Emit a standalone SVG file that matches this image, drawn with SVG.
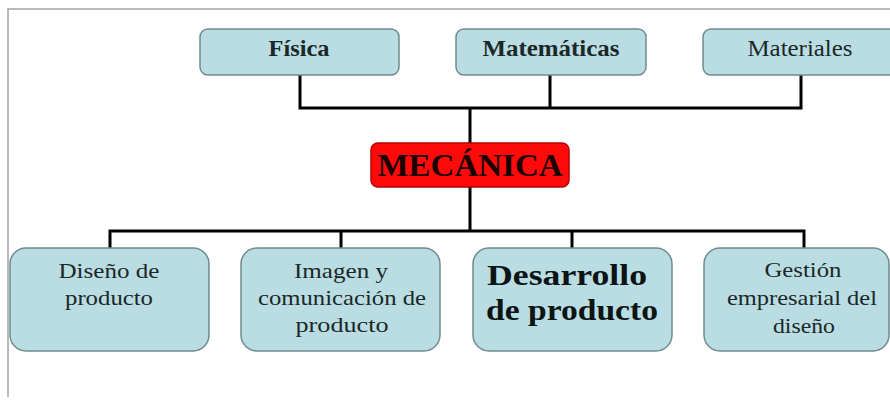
<svg xmlns="http://www.w3.org/2000/svg" width="890" height="405" viewBox="0 0 890 405">
  <style>
    .box { fill: #b9dde2; stroke: #6f8b8e; stroke-width: 1.5; }
    .red { fill: #ff0a0a; stroke: #b80000; stroke-width: 1.5; }
    .t { font-family: "Liberation Serif", "Times New Roman", serif; fill: #1b2828; text-anchor: middle; }
    .b { font-weight: bold; }
    .conn { stroke: #000; stroke-width: 3; fill: none; stroke-linecap: square; }
    .frame { stroke: #a3a3a3; stroke-width: 1.5; fill: none; }
  </style>
  <rect width="890" height="405" fill="#ffffff"/>
  <path class="frame" d="M8,397 V9 H890"/>

  <g id="connectors">
    <path class="conn" d="M300,75 V108 M550,75 V108 M801,75 V108 M300,108 H801 M470,108 V143"/>
    <path class="conn" d="M470,187 V231 M110,231 H804 M110,231 V248 M341,231 V248 M572,231 V248 M804,231 V248"/>
  </g>

  <g id="fisica">
    <rect class="box" x="200" y="29" width="199" height="46" rx="8"/>
    <text class="t b" x="299" y="56" font-size="24" textLength="61" lengthAdjust="spacingAndGlyphs">Física</text>
  </g>
  <g id="matematicas">
    <rect class="box" x="456" y="29" width="190" height="46" rx="8"/>
    <text class="t b" x="551" y="56" font-size="24" textLength="137" lengthAdjust="spacingAndGlyphs">Matemáticas</text>
  </g>
  <g id="materiales">
    <rect class="box" x="703" y="29" width="200" height="46" rx="8"/>
    <text class="t" x="800" y="56" font-size="24" textLength="105" lengthAdjust="spacingAndGlyphs">Materiales</text>
  </g>

  <g id="mecanica">
    <rect class="red" x="371" y="143" width="198" height="44" rx="7"/>
    <text class="t b" x="470" y="176" font-size="31" fill="#1a0000" style="fill:#1a0000" textLength="185" lengthAdjust="spacingAndGlyphs">MECÁNICA</text>
  </g>

  <g id="diseno">
    <rect class="box" x="10" y="248" width="199" height="103" rx="16"/>
    <text class="t" x="109" y="278" font-size="22" textLength="101" lengthAdjust="spacingAndGlyphs">Diseño de</text>
    <text class="t" x="109" y="305" font-size="22" textLength="88" lengthAdjust="spacingAndGlyphs">producto</text>
  </g>
  <g id="imagen">
    <rect class="box" x="241" y="248" width="199" height="103" rx="16"/>
    <text class="t" x="341" y="278" font-size="22" textLength="94" lengthAdjust="spacingAndGlyphs">Imagen y</text>
    <text class="t" x="342" y="305" font-size="22" textLength="168" lengthAdjust="spacingAndGlyphs">comunicación de</text>
    <text class="t" x="342" y="332" font-size="22" textLength="93" lengthAdjust="spacingAndGlyphs">producto</text>
  </g>
  <g id="desarrollo">
    <rect class="box" x="473" y="248" width="199" height="103" rx="16"/>
    <text class="t b" x="567" y="285" font-size="30" style="fill:#0d1414" textLength="160" lengthAdjust="spacingAndGlyphs">Desarrollo</text>
    <text class="t b" x="572" y="320" font-size="30" style="fill:#0d1414" textLength="172" lengthAdjust="spacingAndGlyphs">de producto</text>
  </g>
  <g id="gestion">
    <rect class="box" x="704" y="248" width="185" height="103" rx="16"/>
    <text class="t" x="803" y="277" font-size="22" textLength="77" lengthAdjust="spacingAndGlyphs">Gestión</text>
    <text class="t" x="802" y="305" font-size="22" textLength="150" lengthAdjust="spacingAndGlyphs">empresarial del</text>
    <text class="t" x="804" y="333" font-size="22" textLength="62" lengthAdjust="spacingAndGlyphs">diseño</text>
  </g>
</svg>
